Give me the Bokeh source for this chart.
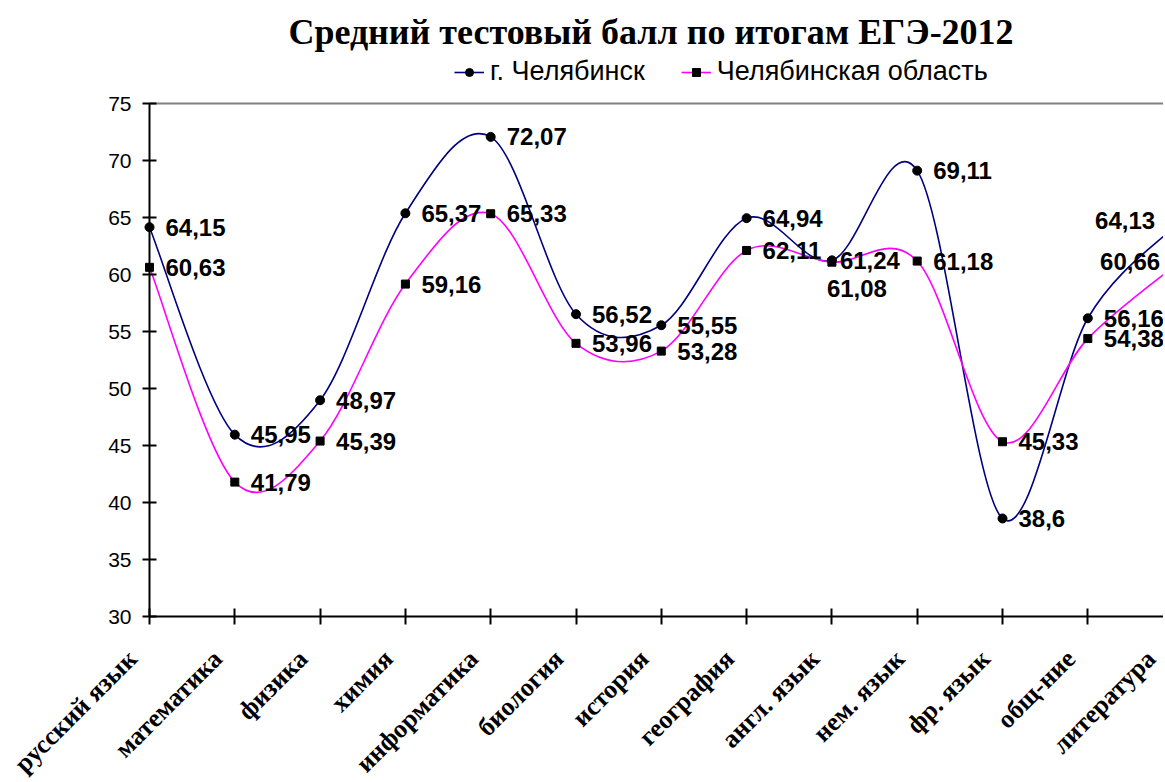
import math
from bokeh.plotting import figure
from bokeh.models import (Range1d, FixedTicker, Label, Legend, LegendItem,
                          LinearAxis, ColumnDataSource)
from bokeh.core.properties import value
from bokeh.embed import file_html
from bokeh.resources import INLINE

# ---------------- data ----------------
categories = ["русский язык", "математика", "физика", "химия", "информатика",
              "биология", "история", "география", "англ. язык", "нем. язык",
              "фр. язык", "общ-ние", "литература"]
chelyabinsk = [64.15, 45.95, 48.97, 65.37, 72.07, 56.52, 55.55, 64.94, 61.24,
               69.11, 38.6, 56.16, 64.13]
oblast = [60.63, 41.79, 45.39, 59.16, 65.33, 53.96, 53.28, 62.11, 61.08,
          61.18, 45.33, 54.38, 60.66]
y_ticks = [30, 35, 40, 45, 50, 55, 60, 65, 70, 75]
title_text = "Средний тестовый балл по итогам ЕГЭ-2012"
series_names = ["г. Челябинск", "Челябинская область"]

# ---------------- label placement (screen px) ----------------
city_dx = [16] * 8 + [8] + [16] * 3 + [-78]
city_dy = [0] * 12 + [-7]
obl_dx = [16] * 8 + [-5] + [16] * 3 + [-73]
obl_dy = [0] * 8 + [26] + [0] * 3 + [-5]
cat_dx = [-17] * 12 + [-22]

CITY_COLOR = "#000080"
OBL_COLOR = "#FF00FF"
SANS = "Liberation Sans"
SERIF = "Liberation Serif"

Y_MIN, Y_MAX = 30, 75
xs = list(range(len(categories)))


def smooth(xv, yv):
    n = len(xv)
    P = list(zip(xv, yv))
    d = dict(x0=[], y0=[], x1=[], y1=[], cx0=[], cy0=[], cx1=[], cy1=[])
    for i in range(n - 1):
        pm = P[i - 1] if i > 0 else P[i]
        p0, p1 = P[i], P[i + 1]
        pp = P[i + 2] if i + 2 < n else P[i + 1]
        d["x0"].append(p0[0]); d["y0"].append(p0[1])
        d["x1"].append(p1[0]); d["y1"].append(p1[1])
        d["cx0"].append(p0[0] + (p1[0] - pm[0]) / 6)
        d["cy0"].append(p0[1] + (p1[1] - pm[1]) / 6)
        d["cx1"].append(p1[0] - (pp[0] - p0[0]) / 6)
        d["cy1"].append(p1[1] - (pp[1] - p0[1]) / 6)
    return d


# layout geometry (pixels)
W, H = 1163, 780
AXIS_X = 149                # px from left edge to the value axis
PX_X = 85.3                 # px per category
PX_Y = (616 - 103) / 45.0   # px per score unit
x_start = -AXIS_X / PX_X
x_end = x_start + W / PX_X
y_top = Y_MAX + 103 / PX_Y
y_bot = Y_MIN - (H - 616) / PX_Y

p = figure(width=W, height=H, output_backend="svg", toolbar_location=None,
           x_range=Range1d(x_start, x_end), y_range=Range1d(y_bot, y_top),
           min_border_left=0, min_border_right=0, min_border_top=0,
           min_border_bottom=0)
p.outline_line_color = None
p.xgrid.visible = False
p.ygrid.visible = False
p.background_fill_color = "white"

# axes
for ax in (p.xaxis[0], p.yaxis[0]):
    ax.axis_line_color = "black"
    ax.axis_line_width = 2
    ax.major_tick_line_color = "black"
    ax.major_tick_line_width = 2
    ax.minor_tick_line_color = None

p.yaxis.fixed_location = 0
p.yaxis.bounds = (Y_MIN, Y_MAX)
p.yaxis.ticker = FixedTicker(ticks=y_ticks)
p.yaxis.major_tick_in = 7
p.yaxis.major_tick_out = 7
p.yaxis.major_label_standoff = 11
p.yaxis.major_label_text_font = SANS
p.yaxis.major_label_text_font_size = "21px"
p.yaxis.major_label_text_color = "black"

p.xaxis.fixed_location = Y_MIN
p.xaxis.bounds = (0, x_end)
p.xaxis.ticker = FixedTicker(ticks=xs)
p.xaxis.major_tick_in = 8
p.xaxis.major_tick_out = 8
p.xaxis.major_label_overrides = {i: "" for i in xs}

# grey top border of the plot area
top = LinearAxis(fixed_location=Y_MAX, bounds=(0, x_end), ticker=FixedTicker(ticks=[]),
                 axis_line_color="#808080", axis_line_width=2,
                 major_tick_line_color=None, minor_tick_line_color=None)
p.add_layout(top, "above")

# category labels (rotated, ending just below each tick)
cat_src = ColumnDataSource(dict(x=xs, y=[Y_MIN] * len(xs), t=categories, dx=cat_dx))
p.text(x="x", y="y", text="t", source=cat_src, angle=math.pi / 4,
       x_offset="dx", y_offset=38, text_align="right", text_baseline="middle",
       text_font=value(SERIF), text_font_style="bold", text_font_size="26px",
       text_color="black")

# curves
p.bezier(source=ColumnDataSource(smooth(xs, chelyabinsk)), x0="x0", y0="y0",
         x1="x1", y1="y1", cx0="cx0", cy0="cy0", cx1="cx1", cy1="cy1",
         line_color=CITY_COLOR, line_width=1.6)
p.bezier(source=ColumnDataSource(smooth(xs, oblast)), x0="x0", y0="y0",
         x1="x1", y1="y1", cx0="cx0", cy0="cy0", cx1="cx1", cy1="cy1",
         line_color=OBL_COLOR, line_width=1.6)

m_city = p.scatter(xs, chelyabinsk, marker="circle", size=9, fill_color="black",
                   line_color="black")
m_obl = p.scatter(xs, oblast, marker="square", size=8, fill_color="black",
                  line_color="black")

# data labels
fmt = lambda v: ("%g" % v).replace(".", ",")
src_c = ColumnDataSource(dict(x=xs, y=chelyabinsk, t=[fmt(v) for v in chelyabinsk],
                              dx=city_dx, dy=city_dy))
src_o = ColumnDataSource(dict(x=xs, y=oblast, t=[fmt(v) for v in oblast],
                              dx=obl_dx, dy=obl_dy))
for src in (src_c, src_o):
    p.text(x="x", y="y", text="t", source=src, x_offset="dx", y_offset="dy",
           text_align="left", text_baseline="middle",
           text_font=value(SANS), text_font_style="bold", text_font_size="24px",
           text_color="black")

# legend: one-point line renderers (draw nothing in the plot) give the legend lines
lc = p.line(x=xs[:1], y=chelyabinsk[:1], line_color=CITY_COLOR, line_width=1.6)
lo = p.line(x=xs[:1], y=oblast[:1], line_color=OBL_COLOR, line_width=1.6)
legend = Legend(items=[LegendItem(label=series_names[0], renderers=[lc, m_city]),
                       LegendItem(label=series_names[1], renderers=[lo, m_obl])],
                orientation="horizontal", location=(454, 693),
                padding=0, margin=0, spacing=36, glyph_width=30, glyph_height=20,
                label_standoff=6, label_text_font=SANS, label_text_font_size="27px",
                label_text_color="black",
                border_line_color=None, background_fill_alpha=0)
p.add_layout(legend)

# title
p.add_layout(Label(x=(651.5 - 150) / PX_X, y=Y_MAX + (103 - 31.5) / PX_Y,
                   text=title_text, text_align="center", text_baseline="middle",
                   text_font=SERIF, text_font_style="bold", text_font_size="36px",
                   text_color="black"))

open("out.html", "w").write(file_html(p, INLINE))
